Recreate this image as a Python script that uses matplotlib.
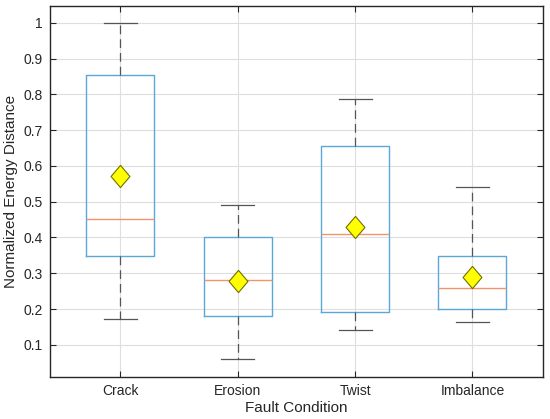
import matplotlib
matplotlib.use('Agg')
from matplotlib import pyplot as plt

plt.rcParams['font.family'] = ['Liberation Sans', 'DejaVu Sans']

conditions = ['Crack', 'Erosion', 'Twist', 'Imbalance']
whisker_low = [0.172, 0.059, 0.141, 0.163]
q1 = [0.347, 0.181, 0.193, 0.200]
medians = [0.452, 0.281, 0.409, 0.260]
q3 = [0.853, 0.401, 0.655, 0.347]
whisker_high = [1.000, 0.492, 0.786, 0.542]
means = [0.572, 0.279, 0.428, 0.290]

stats = []
for i in range(len(conditions)):
    stats.append({'label': conditions[i], 'whislo': whisker_low[i], 'q1': q1[i],
                  'med': medians[i], 'q3': q3[i], 'whishi': whisker_high[i],
                  'mean': means[i], 'fliers': []})

# diamond a bit taller than wide, like the matlab one
diamond = [(0, 1), (0.85, 0), (0, -1), (-0.85, 0), (0, 1)]

fig = plt.figure(figsize=(5.5, 4.19), dpi=100)
ax = fig.add_axes([0.0909, 0.1002, 0.8961, 0.8855])

positions = list(range(1, len(conditions) + 1))
ax.bxp(stats, positions=positions, widths=0.58, capwidths=0.28,
       showmeans=True, showfliers=False,
       boxprops=dict(color='#5aa8d8', linewidth=1.0),
       medianprops=dict(color='#f2936a', linewidth=1.0),
       whiskerprops=dict(color='#555555', linestyle=(0, (7, 4)), linewidth=0.9),
       capprops=dict(color='#555555', linewidth=0.9),
       meanprops=dict(marker=diamond, markerfacecolor='#ffff00', markeredgecolor='#707000',
                      markersize=16, markeredgewidth=0.8))

ax.set_xlim(0.4, 4.6)
ax.set_ylim(0.01, 1.047)
ax.set_yticks([0.1, 0.2, 0.3, 0.4, 0.5, 0.6, 0.7, 0.8, 0.9, 1.0])
ax.set_yticklabels(['0.1', '0.2', '0.3', '0.4', '0.5', '0.6', '0.7', '0.8', '0.9', '1'])
ax.set_xticks(positions)
ax.set_xticklabels(conditions)
ax.grid(True, color='#dedede', linewidth=0.8)
ax.set_axisbelow(True)
ax.tick_params(direction='in', top=True, right=True, labelsize=10, colors='#262626',
               length=4, pad=5)
for s in ax.spines.values():
    s.set_color('#262626')
    s.set_linewidth(1.0)
ax.set_xlabel('Fault Condition', fontsize=11, color='#262626', labelpad=2)
ax.set_ylabel('Normalized Energy Distance', fontsize=11, color='#262626', labelpad=4)

fig.savefig('out.png', dpi=100)
